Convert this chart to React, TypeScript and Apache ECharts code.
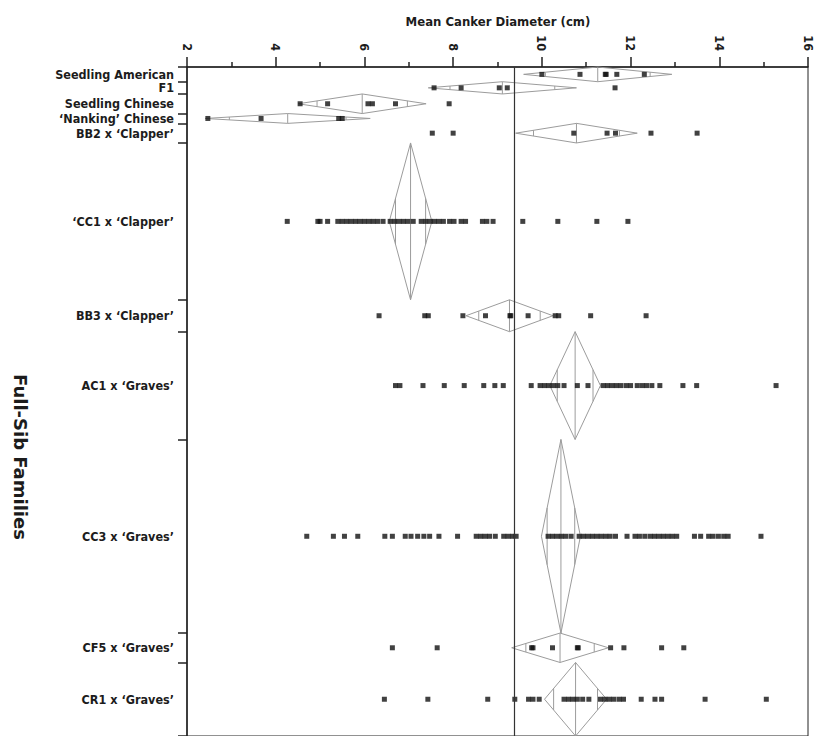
import React, { useEffect, useRef } from "react";
import * as echarts from "echarts";

// ---- data ----
const categories = [
  "Seedling American",
  "F1",
  "Seedling Chinese",
  "‘Nanking’ Chinese",
  "BB2 x ‘Clapper’",
  "‘CC1 x ‘Clapper’",
  "BB3 x ‘Clapper’",
  "AC1 x ‘Graves’",
  "CC3 x ‘Graves’",
  "CF5 x ‘Graves’",
  "CR1 x ‘Graves’",
];
// group sizes (row heights are proportional to them)
const groupSizes = [6, 5, 8, 4, 8, 64, 13, 44, 79, 12, 30];
const groupMeans = [11.26, 9.11, 5.95, 4.27, 10.78, 7.04, 9.27, 10.75, 10.43, 10.41, 10.76];
const ciHalfWidths = [1.67, 1.67, 1.44, 1.86, 1.37, 0.48, 0.98, 0.57, 0.44, 1.09, 0.7];
const grandMean = 9.37;

const seedlingAmerican = [10.0, 10.86, 11.43, 11.45, 11.69, 12.31];
const f1 = [7.57, 8.18, 9.04, 9.22, 11.65];
const seedlingChinese = [4.55, 5.17, 6.08, 6.18, 6.7, 7.91];
const nanking = [2.47, 3.67, 5.42, 5.5];
const bb2 = [7.53, 8.0, 10.72, 11.47, 11.66, 12.46, 13.5];
const cc1 = [4.26, 4.95, 5.0, 5.17, 5.4, 5.5, 5.6, 5.7, 5.8, 5.9, 6.0, 6.1, 6.2, 6.3, 6.42,
  6.58, 6.68, 6.78, 6.88, 6.98, 7.1, 7.28, 7.38, 7.48, 7.58, 7.68, 7.78, 7.92, 8.02, 8.18, 8.28,
  8.66, 8.76, 8.9, 9.57, 10.36, 11.24, 11.94];
const bb3 = [6.33, 7.36, 7.44, 8.22, 8.73, 9.28, 9.3, 9.69, 10.3, 10.38, 11.1, 12.35];
const ac1 = [6.7, 6.8, 7.32, 7.8, 8.25, 8.69, 8.94, 9.13, 9.76, 9.96, 10.06, 10.16, 10.26, 10.36,
  10.5, 10.8, 11.04, 11.38, 11.48, 11.58, 11.68, 11.78, 11.9, 12.0, 12.15, 12.26, 12.36, 12.48,
  12.66, 13.18, 13.49, 15.28];
const cc3 = [4.7, 5.3, 5.55, 5.85, 6.46, 6.63, 6.92, 7.05, 7.2, 7.34, 7.47, 7.68, 8.1, 8.52, 8.62,
  8.72, 8.82, 8.95, 9.14, 9.24, 9.34, 9.42, 10.14, 10.24, 10.34, 10.44, 10.54, 10.66, 10.84, 10.94,
  11.04, 11.14, 11.24, 11.34, 11.44, 11.54, 11.66, 11.92, 12.1, 12.2, 12.32, 12.44, 12.54, 12.64,
  12.74, 12.84, 12.94, 13.04, 13.44, 13.58, 13.76, 13.86, 13.98, 14.1, 14.2, 14.94];
const cf5 = [6.63, 7.64, 9.77, 9.8, 10.24, 10.8, 10.82, 11.55, 11.85, 12.7, 13.2];
const cr1 = [6.45, 7.43, 8.78, 9.39, 9.7, 9.8, 9.94, 10.5, 10.6, 10.7, 10.8, 10.92, 11.06, 11.32,
  11.42, 11.52, 11.62, 11.74, 11.84, 12.24, 12.55, 12.7, 13.68, 15.06];
const groupPoints = [seedlingAmerican, f1, seedlingChinese, nanking, bb2, cc1, bb3, ac1, cc3, cf5, cr1];

const xMin = 2;
const xMax = 16;
const xInterval = 2;

const FONT = "'DejaVu Sans Condensed', 'DejaVu Sans', sans-serif";
const TEXT = "#1c1c1c";

export default function App() {
  const ref = useRef<HTMLDivElement>(null);

  useEffect(() => {
    if (!ref.current) return;
    const chart = echarts.init(ref.current, undefined, { renderer: "svg" });

    const bounds: number[] = [0];
    groupSizes.forEach((n) => bounds.push(bounds[bounds.length - 1] + n));
    const total = bounds[bounds.length - 1];
    const centers = groupSizes.map((_, i) => (bounds[i] + bounds[i + 1]) / 2);

    const pointData: number[][] = [];
    groupPoints.forEach((arr, i) => arr.forEach((v) => pointData.push([v, centers[i]])));

    const diamondData = groupMeans.map((m, i) => [m, ciHalfWidths[i], bounds[i], bounds[i + 1]]);

    const labelFor = (v: number) => {
      let best = 0;
      let d = Infinity;
      centers.forEach((c, i) => {
        if (Math.abs(c - v) < d) {
          d = Math.abs(c - v);
          best = i;
        }
      });
      return categories[best];
    };

    const gray = "#9c9c9c";

    chart.setOption({
      animation: false,
      backgroundColor: "#ffffff",
      grid: {
        left: 187,
        top: 67,
        width: 621,
        height: 670,
        show: true,
        borderColor: "#222",
        borderWidth: 1,
        backgroundColor: "transparent",
      },
      xAxis: {
        type: "value",
        position: "top",
        min: xMin,
        max: xMax,
        interval: xInterval,
        axisLine: { show: true, lineStyle: { color: "#222", width: 1.5 } },
        axisTick: { show: true, length: 10, lineStyle: { color: "#222", width: 1.5 } },
        minorTick: { show: true, splitNumber: 2, length: 5, lineStyle: { color: "#222", width: 1.5 } },
        axisLabel: {
          rotate: -90,
          margin: 16,
          fontFamily: FONT,
          fontWeight: "bold",
          fontSize: 12.5,
          color: TEXT,
        },
        splitLine: { show: false },
      },
      yAxis: {
        type: "value",
        min: 0,
        max: total,
        inverse: true,
        axisLine: { show: true, lineStyle: { color: "#222", width: 1.5 } },
        axisTick: {
          show: true,
          customValues: bounds,
          length: 9,
          lineStyle: { color: "#222", width: 1.5 },
        },
        axisLabel: {
          customValues: centers,
          formatter: (v: number) => labelFor(v),
          margin: 13,
          fontFamily: FONT,
          fontWeight: "bold",
          fontSize: 12.5,
          color: TEXT,
        },
        splitLine: { show: false },
      },
      graphic: [
        {
          type: "text",
          x: 498,
          y: 21,
          style: {
            text: "Mean Canker Diameter (cm)",
            fontFamily: FONT,
            fontWeight: "bold",
            fontSize: 13,
            fill: TEXT,
            textAlign: "center",
            textVerticalAlign: "middle",
          },
        },
        {
          type: "text",
          x: 20,
          y: 457,
          rotation: -Math.PI / 2,
          style: {
            text: "Full-Sib Families",
            fontFamily: "'DejaVu Sans', sans-serif",
            fontWeight: "bold",
            fontSize: 18,
            fill: TEXT,
            textAlign: "center",
            textVerticalAlign: "middle",
          },
        },
      ],
      series: [
        {
          type: "custom",
          z: 2,
          encode: { x: 0, y: 2 },
          data: diamondData,
          renderItem: (params: any, api: any) => {
            const mean = api.value(0);
            const ci = api.value(1);
            const y0 = api.value(2);
            const y1 = api.value(3);
            const yc = (y0 + y1) / 2;
            const pL = api.coord([mean - ci, yc]);
            const pR = api.coord([mean + ci, yc]);
            const pT = api.coord([mean, y0]);
            const pB = api.coord([mean, y1]);
            const f = Math.SQRT1_2;
            const hh = ((1 - f) * (pB[1] - pT[1])) / 2;
            const oL = api.coord([mean - ci * f, yc]);
            const oR = api.coord([mean + ci * f, yc]);
            const style = { stroke: gray, fill: "none", lineWidth: 1 };
            return {
              type: "group",
              children: [
                {
                  type: "polygon",
                  shape: { points: [pL, pT, pR, pB] },
                  style,
                },
                { type: "line", shape: { x1: pT[0], y1: pT[1], x2: pB[0], y2: pB[1] }, style },
                { type: "line", shape: { x1: oL[0], y1: oL[1] - hh, x2: oL[0], y2: oL[1] + hh }, style },
                { type: "line", shape: { x1: oR[0], y1: oR[1] - hh, x2: oR[0], y2: oR[1] + hh }, style },
              ],
            };
          },
        },
        {
          type: "scatter",
          z: 3,
          symbol: "rect",
          symbolSize: [5, 5],
          itemStyle: { color: "#111111" },
          data: pointData,
          markLine: {
            silent: true,
            symbol: "none",
            label: { show: false },
            lineStyle: { color: "#333", width: 1.2, type: "solid" },
            data: [{ xAxis: grandMean }],
          },
        },
      ],
    });

    return () => chart.dispose();
  }, []);

  return (
    <div
      ref={ref}
      style={{ position: "absolute", left: 0, top: 0, width: 816, height: 736 }}
    />
  );
}
